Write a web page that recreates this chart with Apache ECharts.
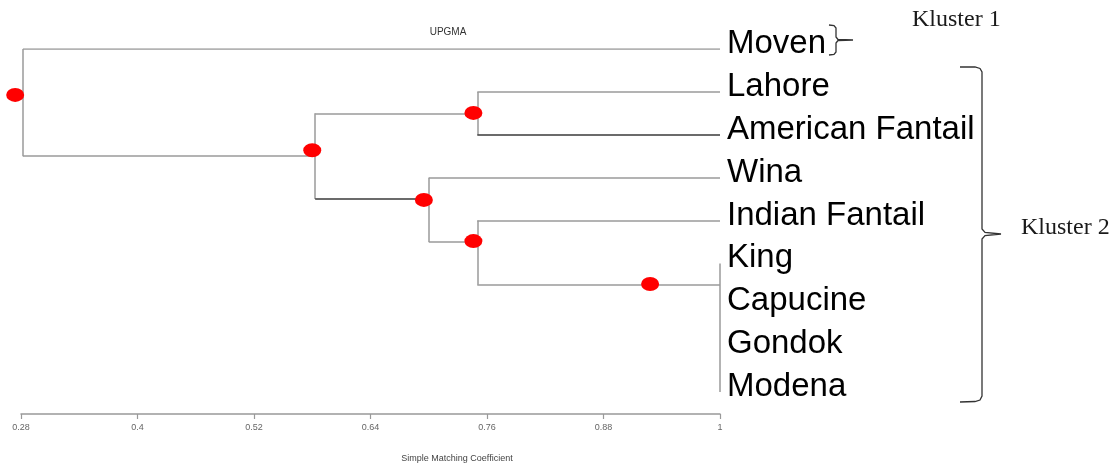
<!DOCTYPE html>
<html>
<head>
<meta charset="utf-8">
<script src="https://cdn.jsdelivr.net/npm/echarts@6/dist/echarts.min.js"></script>
<style>
html,body{margin:0;padding:0;background:#fff;}
#chart{width:1115px;height:466px;}
</style>
</head>
<body>
<div id="chart"></div>
<script>
// ---- data ----
const leaves = ['Moven', 'Lahore', 'American Fantail', 'Wina', 'Indian Fantail', 'King', 'Capucine', 'Gondok', 'Modena'];
const leafSim = 1.0;                       // every leaf sits at coefficient 1
const nodeIds = ['root', 'E', 'A', 'B', 'C', 'D'];
const nodeSim = [0.282, 0.583, 0.750, 0.700, 0.750, 1.000];   // merge coefficient
const nodeRow = [1.07, 2.5, 1.5, 3.5, 4.5, 5.5];              // row where the stem leaves the node
const nodeChildren = [['L0', 'E'], ['A', 'B'], ['L1', 'L2'], ['L3', 'C'], ['L4', 'D'], ['L5', 'L6', 'L7', 'L8']];
const darkEdges = ['E>B', 'A>L2'];
const dotSim = [0.274, 0.580, 0.746, 0.695, 0.746, 0.928];
const dotRow = [1.07, 2.36, 1.49, 3.52, 4.48, 5.48];
const xTicks = [0.28, 0.4, 0.52, 0.64, 0.76, 0.88, 1];
const clusterLabels = ['Kluster 1', 'Kluster 2'];
const title = 'UPGMA';
const xName = 'Simple Matching Coefficient';

// ---- build dendrogram segments ----
function pos(id) {
  if (id[0] === 'L') { return [leafSim, Number(id.slice(1))]; }
  const i = nodeIds.indexOf(id);
  return [nodeSim[i], nodeRow[i]];
}
const GRAY = '#9a9a9a', DARK = '#3a3a3a';
const segs = [];
nodeIds.forEach(function (id, i) {
  const h = nodeSim[i];
  const rows = nodeChildren[i].map(function (c) { return pos(c)[1]; });
  const lo = Math.min.apply(null, rows), hi = Math.max.apply(null, rows);
  segs.push({ coords: [[h, lo], [h, hi]], lineStyle: { color: GRAY } });
  nodeChildren[i].forEach(function (c) {
    const p = pos(c);
    if (Math.abs(p[0] - h) > 1e-9) {
      const dark = darkEdges.indexOf(id + '>' + c) >= 0;
      segs.push({ coords: [[h, p[1]], [p[0], p[1]]], lineStyle: { color: dark ? DARK : GRAY } });
    }
  });
});
const dots = dotSim.map(function (s, i) { return [s, dotRow[i]]; });

const chart = echarts.init(document.getElementById('chart'));
chart.setOption({
  animation: false,
  backgroundColor: '#fff',
  title: [
    { text: title, left: 443, top: 22, textAlign: 'center',
      textStyle: { fontSize: 10, fontWeight: 'normal', color: '#333', fontFamily: 'Liberation Sans, Arial' } },
    { text: xName, left: 452, top: 449, textAlign: 'center',
      textStyle: { fontSize: 9, fontWeight: 'normal', color: '#444', fontFamily: 'Liberation Sans, Arial' } }
  ],
  grid: { left: 21, right: 395, top: 49, bottom: 74 },
  xAxis: {
    type: 'value', min: 0.28, max: 1, offset: 22, position: 'bottom',
    axisLine: { show: true, onZero: false, lineStyle: { color: '#999', width: 1.5 } },
    axisTick: { show: true, length: 5, customValues: xTicks, lineStyle: { color: '#999', width: 1.2 } },
    axisLabel: { customValues: xTicks, fontSize: 9, color: '#666', margin: 9, fontFamily: 'Liberation Sans, Arial' },
    splitLine: { show: false }
  },
  yAxis: {
    type: 'value', inverse: true, min: 0, max: 8, interval: 1, position: 'right',
    axisLine: { show: false }, axisTick: { show: false }, splitLine: { show: false },
    axisLabel: {
      margin: 7, fontSize: 33, color: '#000', fontFamily: 'Liberation Sans, Arial',
      verticalAlign: 'bottom', lineHeight: 10,
      formatter: function (v) { return leaves[v] || ''; }
    }
  },
  series: [
    {
      type: 'lines', coordinateSystem: 'cartesian2d', silent: true,
      lineStyle: { width: 1.5, opacity: 1 },
      data: segs
    },
    {
      type: 'scatter', clip: false, silent: true,
      symbol: 'circle', symbolSize: [18, 14],
      itemStyle: { color: '#ff0000', opacity: 1 },
      data: dots, z: 5
    }
  ],
  graphic: [
    { type: 'text', x: 912, y: 8, style: { text: clusterLabels[0], font: '24px "Liberation Serif", "Times New Roman", serif', fill: '#1a1a1a' } },
    { type: 'text', x: 1021, y: 216, style: { text: clusterLabels[1], font: '24px "Liberation Serif", "Times New Roman", serif', fill: '#1a1a1a' } },
    { type: 'polyline', shape: { points: [[829,25],[834,25.5],[836,28],[836,37],[838,39.5],[853,40],[838,40.5],[836,43],[836,52],[834,54.5],[829,55]] },
      style: { stroke: '#333', lineWidth: 1.3, fill: null } },
    { type: 'polyline', shape: { points: [[960,67],[975,67],[980,68.5],[982,72],[982,229],[985,232.5],[1001,234],[985,235.5],[982,239],[982,396],[980,400],[975,401.5],[960,402]] },
      style: { stroke: '#333', lineWidth: 1.3, fill: null } }
  ]
});
</script>
</body>
</html>
